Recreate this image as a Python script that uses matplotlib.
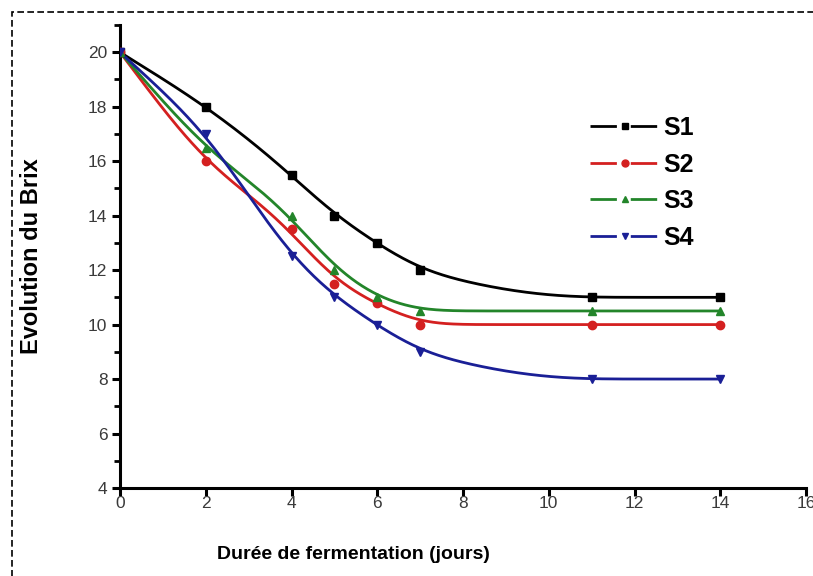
import numpy as np
import matplotlib
matplotlib.use("Agg")
import matplotlib.pyplot as plt
from matplotlib.patches import Rectangle
from matplotlib.ticker import MultipleLocator

plt.rcParams['font.family'] = ['Liberation Sans', 'DejaVu Sans']

jours = [0, 2, 4, 5, 6, 7, 11, 14]
s1 = [20, 18, 15.5, 14, 13, 12, 11, 11]
s2 = [20, 16, 13.5, 11.5, 10.8, 10, 10, 10]
s3 = [20, 16.5, 14, 12, 11, 10.5, 10.5, 10.5]
s4 = [20, 17, 12.5, 11, 10, 9, 8, 8]

noms = ['S1', 'S2', 'S3', 'S4']
couleurs = ['#000000', '#d42020', '#23852a', '#1a1f96']
marqueurs = ['s', 'o', '^', 'v']


def pchip(x, y, t):
    # courbe monotone passant par les points (Fritsch-Carlson)
    x = np.asarray(x, float)
    y = np.asarray(y, float)
    h = np.diff(x)
    d = np.diff(y) / h
    m = np.zeros_like(y)
    for k in range(1, len(x) - 1):
        if d[k - 1] * d[k] > 0:
            w1 = 2 * h[k] + h[k - 1]
            w2 = h[k] + 2 * h[k - 1]
            m[k] = (w1 + w2) / (w1 / d[k - 1] + w2 / d[k])
    m[0] = d[0]
    m[-1] = d[-1]
    i = np.clip(np.searchsorted(x, t) - 1, 0, len(x) - 2)
    s = (t - x[i]) / h[i]
    h00 = 2 * s**3 - 3 * s**2 + 1
    h10 = s**3 - 2 * s**2 + s
    h01 = -2 * s**3 + 3 * s**2
    h11 = s**3 - s**2
    return h00 * y[i] + h10 * h[i] * m[i] + h01 * y[i + 1] + h11 * h[i] * m[i + 1]


def lisser(t, v, sigma=0.65):
    # lissage gaussien, bords prolongés par réflexion impaire
    dt = t[1] - t[0]
    n = int(4 * sigma / dt)
    g = np.exp(-0.5 * (np.arange(-n, n + 1) * dt / sigma) ** 2)
    g /= g.sum()
    gauche = 2 * v[0] - v[1:n + 1][::-1]
    droite = 2 * v[-1] - v[-n - 1:-1][::-1]
    ext = np.concatenate([gauche, v, droite])
    return np.convolve(ext, g, mode='same')[n:-n]


fig = plt.figure(figsize=(8.13, 5.76), dpi=100)
ax = fig.add_axes([0.1476, 0.1528, 0.8438, 0.8038])

xs = np.linspace(0, 14, 561)
for y, nom, c, m in zip([s1, s2, s3, s4], noms, couleurs, marqueurs):
    ax.plot(xs, lisser(xs, pchip(jours, y, xs)), color=c, lw=2, zorder=2)
    ax.plot(jours, y, ls='none', marker=m, ms=6, color=c, zorder=3)
    ax.plot([], [], color=c, lw=2, ls=(0, (9.5, 5)), marker=m, ms=5, label=nom)

ax.set_xlim(0, 16)
ax.set_ylim(4, 21)
ax.xaxis.set_major_locator(MultipleLocator(2))
ax.yaxis.set_major_locator(MultipleLocator(2))
ax.yaxis.set_minor_locator(MultipleLocator(1))
for sp in ['top', 'right']:
    ax.spines[sp].set_visible(False)
for sp in ['left', 'bottom']:
    ax.spines[sp].set_linewidth(2.2)
ax.tick_params(which='major', direction='out', length=6, width=2.2,
               labelsize=12.5, labelcolor='#3a3a3a', pad=3)
ax.tick_params(axis='x', which='major', pad=0)
ax.tick_params(which='minor', direction='out', length=4, width=2)

ax.set_xlabel('Durée de fermentation (jours)', fontsize=14, fontweight='bold')
ax.xaxis.set_label_coords(0.34, -0.126)
ax.set_ylabel('Evolution du Brix', fontsize=17, fontweight='bold')
ax.yaxis.set_label_coords(-0.112, 0.5)

leg = ax.legend(loc='upper left', bbox_to_anchor=(0.652, 0.852), frameon=False,
                numpoints=1, handlelength=2.8, handletextpad=0.15, labelspacing=0.5,
                prop={'weight': 'bold', 'size': 18})

fig.patches.append(Rectangle((12 / 813, -0.05), 1.2, 1 - 12 / 576 + 0.05,
                             transform=fig.transFigure, fill=False, ls=(0, (4, 2)),
                             lw=1.2, color='black'))

fig.savefig('out.png', dpi=100)
